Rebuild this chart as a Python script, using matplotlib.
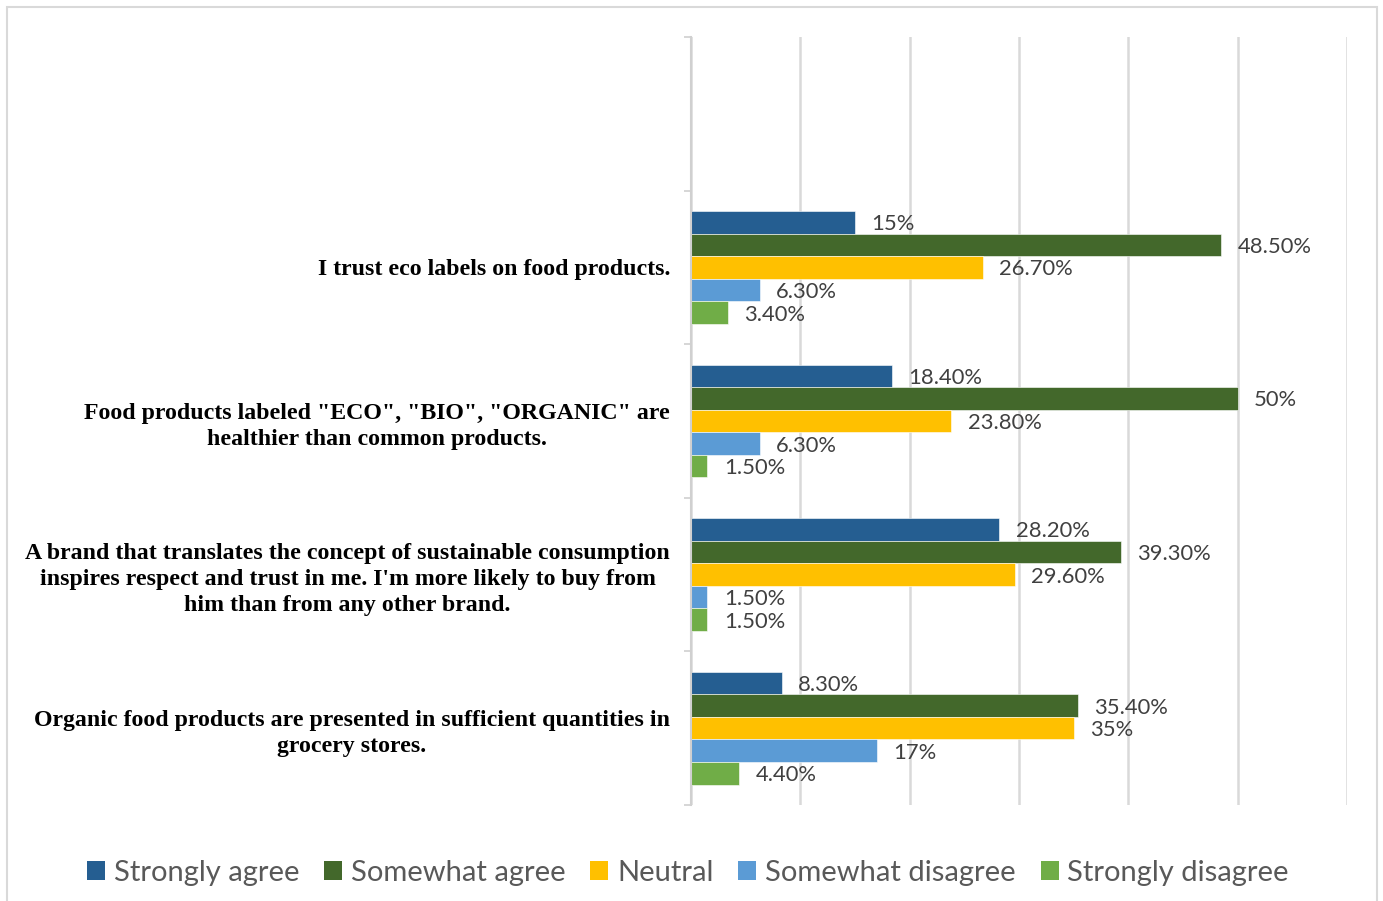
import matplotlib.pyplot as plt
from matplotlib.patches import Patch, Rectangle
from matplotlib.transforms import ScaledTranslation

# survey statements (top slot is left blank)
statements = [
    '',
    'I trust eco labels on food products.',
    'Food products labeled "ECO", "BIO", "ORGANIC" are\nhealthier than common products.',
    'A brand that translates the concept of sustainable consumption\ninspires respect and trust in me. I\'m more likely to buy from\nhim than from any other brand.',
    'Organic food products are presented in sufficient quantities in\ngrocery stores.',
]

answers = ['Strongly agree', 'Somewhat agree', 'Neutral', 'Somewhat disagree', 'Strongly disagree']
colors = ['#255E91', '#43682B', '#FFC000', '#5B9BD5', '#70AD47']

# percent per answer, one entry per statement (first one blank)
strongly_agree = [None, 15, 18.4, 28.2, 8.3]
somewhat_agree = [None, 48.5, 50, 39.3, 35.4]
neutral = [None, 26.7, 23.8, 29.6, 35]
somewhat_disagree = [None, 6.3, 6.3, 1.5, 17]
strongly_disagree = [None, 3.4, 1.5, 1.5, 4.4]
series = [strongly_agree, somewhat_agree, neutral, somewhat_disagree, strongly_disagree]


def fmt(v):
    if float(v).is_integer():
        return '%d%%' % v
    return '%.2f%%' % v


fig = plt.figure(figsize=(13.83, 9.01), dpi=100)
W, H = 1383, 901
ax = fig.add_axes([691 / W, 1 - 805 / H, 656 / W, 768 / H])

# outer light frame
fig.patches.append(Rectangle((7 / W, -0.05), 1370 / W, 1.05 - 7 / H,
                             transform=fig.transFigure, fill=False,
                             edgecolor='#D9D9D9', linewidth=1.5))

bar_h = 0.147
down = ScaledTranslation(0, -2 / 100, fig.dpi_scale_trans)
for i, (vals, col) in enumerate(zip(series, colors)):
    off = (i - 2) * bar_h
    for j, v in enumerate(vals):
        if v is None:
            continue
        ax.barh(j + off, v, height=bar_h, color=col, edgecolor='white', linewidth=0.4)
        ax.text(v + 1.5, j + off, fmt(v), va='center', ha='left',
                fontsize=15.8, color='#404040', family='Lato',
                transform=ax.transData + down)

ax.set_xlim(0, 60)
ax.set_ylim(4.5, -0.5)
ax.set_xticks(range(0, 61, 10))
ax.tick_params(axis='x', length=0, labelbottom=False)
ax.grid(axis='x', color='#D9D9D9', linewidth=1.8)
ax.set_axisbelow(True)

# tick marks between categories, labels at the centres
ax.set_yticks([k - 0.5 for k in range(6)])
ax.set_yticklabels([])
ax.tick_params(axis='y', which='major', length=5, width=1.2, color='#D0D0D0')
ax.set_yticks(range(5), minor=True)
ax.set_yticklabels(statements, minor=True, fontsize=17.2, fontweight='bold',
                   family='Liberation Serif', linespacing=1.32)
ax.tick_params(axis='y', which='minor', length=0, pad=20)

for lab in ax.get_yticklabels(minor=True):
    lab.set_horizontalalignment('center')

for s in ['top', 'right', 'bottom']:
    ax.spines[s].set_visible(False)
ax.spines['left'].set_color('#D0D0D0')
ax.spines['left'].set_linewidth(1.5)

fig.canvas.draw()
# line up the right edge of every centred label block
r = fig.canvas.get_renderer()
for lab in ax.get_yticklabels(minor=True):
    bb = lab.get_window_extent(r)
    dx = 670 - bb.x1
    lab.set_transform(lab.get_transform() + ScaledTranslation(dx / 100, 0, fig.dpi_scale_trans))

handles = [Patch(facecolor=c, edgecolor='none') for c in colors]
fig.legend(handles, answers, loc='center', bbox_to_anchor=(688 / W, 1 - 873 / H),
           ncol=5, frameon=False, handlelength=0.62, handleheight=0.62,
           handletextpad=0.3, columnspacing=0.85,
           prop={'family': 'Lato', 'size': 21}, labelcolor='#595959')

fig.savefig('out.png', dpi=100)
